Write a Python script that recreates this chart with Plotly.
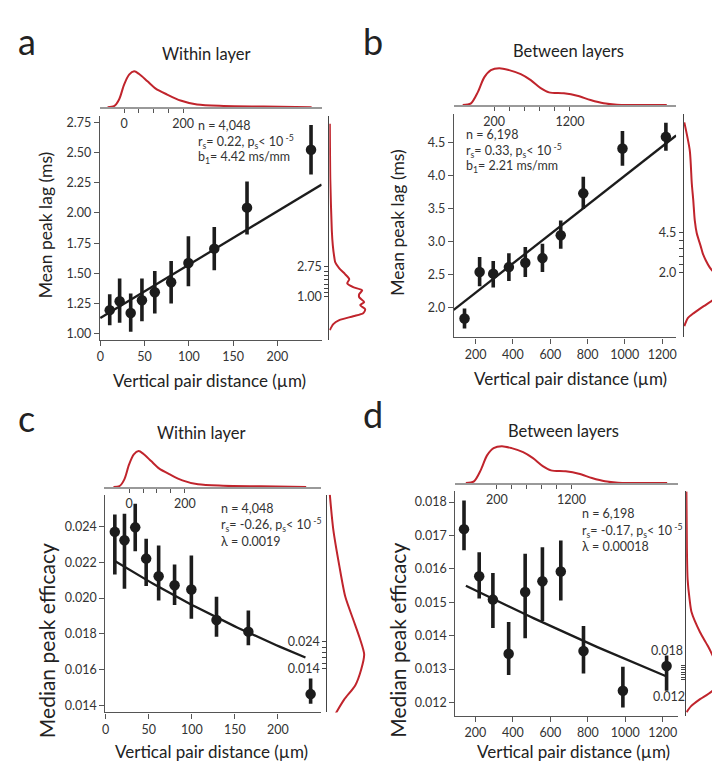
import numpy as np
import plotly.graph_objects as go

W, H = 712, 761
FONT = "Lato, 'Open Sans', sans-serif"
RED = "#c0242c"
INK = "#1c1c1c"


def PX(x):
    return x / W


def PY(y):
    return 1 - y / H


# ---------------- data ----------------
within_dist = [10.6, 21.8, 34.3, 47.0, 61.5, 80.0, 99.5, 128.7, 165.7, 238.0]
between_dist = [140, 221, 294, 378, 466, 558, 656, 777, 987, 1220]

lag_within = [1.196, 1.270, 1.173, 1.278, 1.344, 1.427, 1.586, 1.705, 2.044, 2.523]
lag_within_hi = [1.327, 1.457, 1.334, 1.457, 1.520, 1.603, 1.807, 1.884, 2.261, 2.729]
lag_within_lo = [1.071, 1.091, 1.017, 1.104, 1.168, 1.251, 1.394, 1.526, 1.821, 2.319]

lag_between = [1.834, 2.536, 2.512, 2.611, 2.678, 2.747, 3.093, 3.726, 4.404, 4.580]
lag_between_hi = [1.985, 2.762, 2.702, 2.822, 2.913, 2.964, 3.315, 3.977, 4.670, 4.795]
lag_between_lo = [1.684, 2.321, 2.301, 2.401, 2.461, 2.536, 2.888, 3.491, 4.143, 4.369]

eff_within = [0.02369, 0.02322, 0.02394, 0.02220, 0.02122, 0.02072, 0.02048, 0.01878, 0.01813, 0.01465]
eff_within_hi = [0.02465, 0.02470, 0.02526, 0.02330, 0.02293, 0.02187, 0.02237, 0.02007, 0.01931, 0.01552]
eff_within_lo = [0.02131, 0.02052, 0.02261, 0.02067, 0.01987, 0.01961, 0.01885, 0.01785, 0.01737, 0.01411]

eff_between = [0.01719, 0.01578, 0.01508, 0.01346, 0.01531, 0.01563, 0.01592, 0.01354, 0.01235, 0.01309]
eff_between_hi = [0.01805, 0.01650, 0.01588, 0.01441, 0.01645, 0.01665, 0.01685, 0.01429, 0.01307, 0.01341]
eff_between_lo = [0.01656, 0.01511, 0.01423, 0.01282, 0.01392, 0.01444, 0.01505, 0.01287, 0.01185, 0.01235]

# fit parameters (linear: intercept, slope; exponential: offset, amplitude, lambda)
lag_fit_within = dict(b0=1.13, b1=0.00442, x0=0, x1=250)
lag_fit_between = dict(b0=1.783, b1=0.00221, x0=82, x1=1275)
eff_fit_within = dict(c0=0.0064, A=0.01599, lam=0.0019, x0=10.6, x1=232)
eff_fit_between = dict(c0=0.0, A=0.01592, lam=0.00018, x0=150, x1=1220)

# marginal distance densities (arbitrary units)
within_kde_x = [-56, -34, -17, 0, 17, 34, 51, 79, 107, 146, 191, 247, 337, 472, 635]
within_kde_d = [0, 1, 7.7, 22.7, 32.7, 36, 33.3, 26, 18.7, 12.7, 6.7, 2.7, 1.3, 0.7, 0]
between_kde_x = [-216, -107, -18, 68, 156, 266, 397, 551, 683, 814, 924, 1121, 1297, 1472, 1647, 1822, 2480]
between_kde_d = [0, 1.7, 12.7, 27.7, 35, 37, 35, 31, 25, 17, 12.7, 11.7, 9.3, 5, 1.7, 0.3, 0]

# marginal value densities (arbitrary units)
lag_within_kde_v = [11.13, 7.81, 4.89, 4.02, 3.32, 3.02, 2.67, 2.32, 2.03, 1.80, 1.57, 1.39, 1.16,
                    0.98, 0.69, 0.52, 0.28, 0.05, -0.13, -0.36, -0.59, -0.94]
lag_within_kde_d = [0.5, 1, 2.5, 3.5, 5, 6, 10, 16, 20, 18, 24, 33, 30, 30, 35, 31, 36, 34, 24, 10, 4, 0.5]
lag_between_kde_v = [11.34, 9.59, 7.55, 6.50, 5.26, 4.46, 3.65, 3.22, 2.79, 2.35, 2.04, 1.55, 1.12,
                     0.62, 0.31, -0.06, -0.49, -0.80, -1.30]
lag_between_kde_d = [0.5, 6, 8, 9.5, 11, 13, 17, 19, 22, 26, 30, 36, 38, 36, 29, 20, 10, 4, 0.5]
eff_within_kde_v = [0.07856, 0.0656, 0.05226, 0.04078, 0.03226, 0.02485, 0.0193, 0.01374, 0.00781,
                    0.00263, -0.00219, -0.00476]
eff_within_kde_d = [2.5, 6, 12, 18, 26, 33, 37, 34, 28, 17, 9, 5]
eff_between_kde_v = [0.09114, 0.06668, 0.05409, 0.0457, 0.04024, 0.03185, 0.02597, 0.02178, 0.01632,
                     0.01212, 0.00709, 0.00373, 0.00079, -0.00172]
eff_between_kde_d = [0.3, 0.8, 1.5, 3.5, 5.5, 14, 22, 27, 33, 34, 26, 14, 5, 0.5]

within_ticks = [0, 50, 100, 150, 200]
between_ticks = [200, 400, 600, 800, 1000, 1200]
lag_within_ticks = [1.00, 1.25, 1.50, 1.75, 2.00, 2.25, 2.50, 2.75]
lag_between_ticks = [2.0, 2.5, 3.0, 3.5, 4.0, 4.5]
eff_within_ticks = [0.014, 0.016, 0.018, 0.020, 0.022, 0.024]
eff_between_ticks = [0.012, 0.013, 0.014, 0.015, 0.016, 0.017, 0.018]


def lin_fit(p):
    xs = np.linspace(p["x0"], p["x1"], 60)
    return xs, p["b0"] + p["b1"] * xs


def exp_fit(p):
    xs = np.linspace(p["x0"], p["x1"], 60)
    return xs, p["c0"] + p["A"] * np.exp(-p["lam"] * xs)


panels = [
    dict(letter="a", letter_xy=(13, 40), title="Within layer", title_xy=(204, 53),
         x=within_dist, y=lag_within, hi=lag_within_hi, lo=lag_within_lo, fit=lin_fit(lag_fit_within),
         main_x=(97.3, 320), main_y=(115, 340), xr=[-0.5, 250], yr=[0.948, 2.805],
         xt=within_ticks, yt=lag_within_ticks, yfmt="{:.2f}",
         top_x=(97, 320), top_base=106.5, top_r=[-83, 669], kx=within_kde_x, kd=within_kde_d,
         top_lab=["0", "", "", "", "200"],
         right_x=(327.7, 367.7), right_r=[-1.526, 11.60], rv=lag_within_kde_v, rd=lag_within_kde_d,
         right_ticks=lag_within_ticks, right_lab=["1.00"] + [""] * 6 + ["2.75"], right_xr=[0, 40],
         ytitle="Mean peak lag (ms)", ytitle_xy=(43, 225), ytitle_size=17.5,
         xtitle_xy=(207, 380),
         stats=["n = 4,048", "r<sub>s</sub>= 0.22, p<sub>s</sub>&lt; 10<sup> -5</sup>",
                "b<sub>1</sub>= 4.42 ms/mm"], stats_x=194, stats_y=[125, 140.7, 156.7]),
    dict(letter="b", letter_xy=(360, 40), title="Between layers", title_xy=(568, 50),
         x=between_dist, y=lag_between, hi=lag_between_hi, lo=lag_between_lo, fit=lin_fit(lag_fit_between),
         main_x=(452.7, 676), main_y=(113, 337.3), xr=[82.5, 1275], yr=[1.548, 4.93],
         xt=between_ticks, yt=lag_between_ticks, yfmt="{:.1f}",
         top_x=(452.7, 676), top_base=104.3, top_r=[-334, 2604], kx=between_kde_x, kd=between_kde_d,
         top_lab=["200", "", "", "", "", "1200"],
         right_x=(683.7, 712), right_r=[-1.998, 11.88], rv=lag_between_kde_v, rd=lag_between_kde_d,
         right_ticks=lag_between_ticks, right_lab=["2.0"] + [""] * 4 + ["4.5"], right_xr=[0, 28.3],
         ytitle="Mean peak lag (ms)", ytitle_xy=(396, 222), ytitle_size=17.5,
         xtitle_xy=(570, 378),
         stats=["n = 6,198", "r<sub>s</sub>= 0.33, p<sub>s</sub>&lt; 10<sup> -5</sup>",
                "b<sub>1</sub>= 2.21 ms/mm"], stats_x=463, stats_y=[134, 150, 165.7]),
    dict(letter="c", letter_xy=(13, 418), title="Within layer", title_xy=(199, 433),
         x=within_dist, y=eff_within, hi=eff_within_hi, lo=eff_within_lo, fit=exp_fit(eff_fit_within),
         main_x=(102.7, 319.3), main_y=(495, 713.3), xr=[-0.5, 250], yr=[0.01363, 0.02576],
         xt=within_ticks, yt=eff_within_ticks, yfmt="{:.3f}",
         top_x=(101.7, 319.3), top_base=487.3, top_r=[-89, 688], kx=within_kde_x, kd=within_kde_d,
         top_lab=["0", "", "", "", "200"],
         right_x=(325.7, 365.7), right_r=[-0.00219, 0.07856], rv=eff_within_kde_v, rd=eff_within_kde_d,
         right_ticks=eff_within_ticks, right_lab=["0.014"] + [""] * 4 + ["0.024"], right_xr=[0, 40],
         ytitle="Median peak efficacy", ytitle_xy=(43, 641), ytitle_size=21,
         xtitle_xy=(209, 752),
         stats=["n = 4,048", "r<sub>s</sub>= -0.26, p<sub>s</sub>&lt; 10<sup> -5</sup>",
                "λ = 0.0019"], stats_x=216.5, stats_y=[509.3, 525.3, 541.7]),
    dict(letter="d", letter_xy=(360, 414), title="Between layers", title_xy=(563, 431),
         x=between_dist, y=eff_between, hi=eff_between_hi, lo=eff_between_lo, fit=exp_fit(eff_fit_between),
         main_x=(454.3, 677.7), main_y=(491.7, 716.7), xr=[94, 1280], yr=[0.0116, 0.01832],
         xt=between_ticks, yt=eff_between_ticks, yfmt="{:.3f}",
         top_x=(454.3, 677.7), top_base=483.3, top_r=[-356, 2623], kx=between_kde_x, kd=between_kde_d,
         top_lab=["200", "", "", "", "", "1200"],
         right_x=(686, 712), right_r=[-0.00327, 0.0911], rv=eff_between_kde_v, rd=eff_between_kde_d,
         right_ticks=eff_between_ticks, right_lab=[""] * 7, right_xr=[0, 26],
         ytitle="Median peak efficacy", ytitle_xy=(396, 641), ytitle_size=21,
         xtitle_xy=(573, 752),
         stats=["n = 6,198", "r<sub>s</sub>= -0.17, p<sub>s</sub>&lt; 10<sup> -5</sup>",
                "λ = 0.00018"], stats_x=579, stats_y=[514, 530.7, 546.7]),
]


def axkey(n, a):
    return f"{a}axis" if n == 1 else f"{a}axis{n}"


def axref(n, a):
    return a if n == 1 else f"{a}{n}"


fig = go.Figure()
layout = dict(width=W, height=H, margin=dict(l=0, r=0, t=0, b=0, pad=0),
              paper_bgcolor="white", plot_bgcolor="white", showlegend=False,
              font=dict(family=FONT, color="#333"))
annotations = []

main_common = dict(showline=True, linecolor="#555", linewidth=1.2, ticks="outside", ticklen=5,
                   tickwidth=1.2, tickcolor="#555", tickfont=dict(family=FONT, size=12.5, color="#333"),
                   showgrid=False, zeroline=False, fixedrange=True)

for i, p in enumerate(panels):
    m, t, r = 3 * i + 1, 3 * i + 2, 3 * i + 3
    # main axes
    layout[axkey(m, "x")] = dict(main_common, domain=[PX(p["main_x"][0]), PX(p["main_x"][1])],
                                 range=p["xr"], anchor=axref(m, "y"), tickvals=p["xt"],
                                 ticktext=[str(v) for v in p["xt"]])
    layout[axkey(m, "y")] = dict(main_common, domain=[PY(p["main_y"][1]), PY(p["main_y"][0])],
                                 range=p["yr"], anchor=axref(m, "x"), tickvals=p["yt"],
                                 ticktext=[p["yfmt"].format(v) for v in p["yt"]])
    # top marginal
    layout[axkey(t, "x")] = dict(domain=[PX(p["top_x"][0]), PX(p["top_x"][1])], range=p["top_r"],
                                 anchor=axref(t, "y"), showline=True, linecolor="#999", linewidth=1.6,
                                 ticks="outside", ticklen=4, tickwidth=1, tickcolor="#555",
                                 tickvals=p["xt"], ticktext=p["top_lab"],
                                 tickfont=dict(family=FONT, size=12.5, color="#333"),
                                 showgrid=False, zeroline=False, fixedrange=True)
    layout[axkey(t, "y")] = dict(domain=[PY(p["top_base"]), PY(p["top_base"] - 42)], range=[0, 42],
                                 anchor=axref(t, "x"), visible=False, fixedrange=True)
    # right marginal
    layout[axkey(r, "x")] = dict(domain=[PX(p["right_x"][0]), PX(p["right_x"][1])], range=p["right_xr"],
                                 anchor=axref(r, "y"), visible=False, fixedrange=True)
    layout[axkey(r, "y")] = dict(domain=[PY(p["main_y"][1]), PY(p["main_y"][0])], range=p["right_r"],
                                 anchor=axref(r, "x"), side="left", showline=True, linecolor="#444",
                                 linewidth=1.2, ticks="outside", ticklen=4, tickwidth=1, tickcolor="#444",
                                 tickvals=p["right_ticks"], ticktext=p["right_lab"],
                                 tickfont=dict(family=FONT, size=12.5, color="#333"),
                                 showgrid=False, zeroline=False, fixedrange=True)

    xa, ya = axref(m, "x"), axref(m, "y")
    # fit line
    fx, fy = p["fit"]
    fig.add_trace(go.Scatter(x=fx, y=fy, mode="lines", line=dict(color=INK, width=2.3),
                             xaxis=xa, yaxis=ya, hoverinfo="skip"))
    # points with error bars
    yv = np.array(p["y"])
    fig.add_trace(go.Scatter(x=p["x"], y=p["y"], mode="markers",
                             marker=dict(color=INK, size=10.5),
                             error_y=dict(type="data", symmetric=False,
                                          array=list(np.array(p["hi"]) - yv),
                                          arrayminus=list(yv - np.array(p["lo"])),
                                          thickness=3.6, width=0, color=INK),
                             xaxis=xa, yaxis=ya, cliponaxis=False))
    # top marginal density
    fig.add_trace(go.Scatter(x=p["kx"], y=p["kd"], mode="lines",
                             line=dict(color=RED, width=2, shape="spline", smoothing=0.8),
                             xaxis=axref(t, "x"), yaxis=axref(t, "y"), hoverinfo="skip"))
    # right marginal density
    fig.add_trace(go.Scatter(x=p["rd"], y=p["rv"], mode="lines",
                             line=dict(color=RED, width=2, shape="spline", smoothing=0.7),
                             xaxis=axref(r, "x"), yaxis=axref(r, "y"), hoverinfo="skip"))

    # texts
    annotations.append(dict(text=p["letter"], x=PX(p["letter_xy"][0]), y=PY(p["letter_xy"][1]),
                            xref="paper", yref="paper", xanchor="left", yanchor="middle",
                            showarrow=False, font=dict(family=FONT, size=36, color="#222")))
    annotations.append(dict(text=p["title"], x=PX(p["title_xy"][0]), y=PY(p["title_xy"][1]),
                            xref="paper", yref="paper", xanchor="center", yanchor="middle",
                            showarrow=False, font=dict(family=FONT, size=16.5, color="#222")))
    annotations.append(dict(text="Vertical pair distance (µm)", x=PX(p["xtitle_xy"][0]),
                            y=PY(p["xtitle_xy"][1]), xref="paper", yref="paper",
                            xanchor="center", yanchor="middle", showarrow=False,
                            font=dict(family=FONT, size=17, color="#222")))
    annotations.append(dict(text=p["ytitle"], x=PX(p["ytitle_xy"][0]), y=PY(p["ytitle_xy"][1]),
                            xref="paper", yref="paper", xanchor="center", yanchor="middle",
                            textangle=-90, showarrow=False,
                            font=dict(family=FONT, size=p["ytitle_size"], color="#222")))
    for line, yy in zip(p["stats"], p["stats_y"]):
        annotations.append(dict(text=line, x=PX(p["stats_x"]), y=PY(yy), xref="paper", yref="paper",
                                xanchor="left", yanchor="middle", showarrow=False,
                                font=dict(family=FONT, size=12.5, color="#333")))

# panel d right-marginal labels (offset from ticks)
annotations.append(dict(text="0.018", x=PX(667), y=PY(651), xref="paper", yref="paper",
                        xanchor="center", yanchor="middle", showarrow=False,
                        font=dict(family=FONT, size=12.5, color="#333")))
annotations.append(dict(text="0.012", x=PX(669), y=PY(697.5), xref="paper", yref="paper",
                        xanchor="center", yanchor="middle", showarrow=False,
                        font=dict(family=FONT, size=12.5, color="#333")))

layout["annotations"] = annotations
fig.update_layout(**layout)
fig.write_html("out.html")
